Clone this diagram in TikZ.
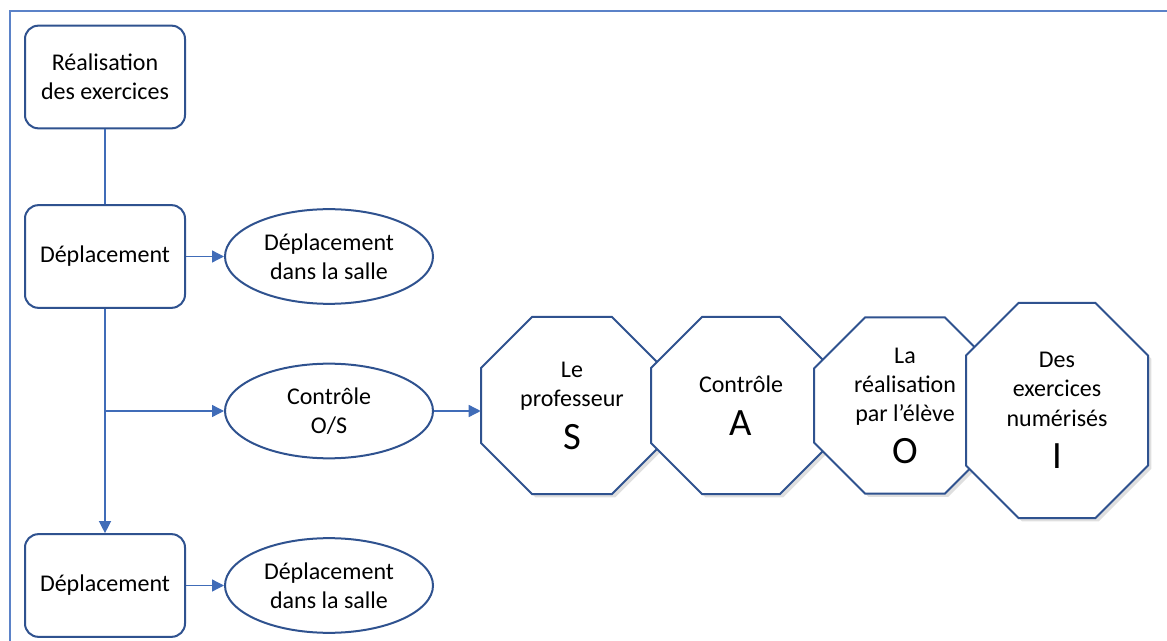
\documentclass[tikz,border=0pt]{standalone}
\usepackage{fontspec}
\setmainfont{Carlito}
\usetikzlibrary{shapes.geometric,arrows.meta,shadows}
\definecolor{boxline}{RGB}{47,82,143}
\definecolor{connline}{RGB}{64,108,184}
\definecolor{frameline}{RGB}{91,130,200}
\newcommand{\txtfont}{\fontsize{18}{22}\selectfont}
\newcommand{\bigletter}[1]{{\fontsize{29}{30}\selectfont #1}}
\tikzset{
  rbox/.style={draw=boxline, line width=1.5pt, rounded corners=10pt, fill=white,
    minimum width=120pt, minimum height=77pt, align=center, inner sep=0pt, font=\txtfont},
  ell/.style={ellipse, draw=boxline, line width=1.5pt, fill=white,
    minimum width=156pt, minimum height=71pt, inner sep=0pt, align=center, font=\txtfont},
  conn/.style={draw=connline, line width=1pt},
  arr/.style={conn, -{Triangle[length=9pt,width=9pt]}},
  octfill/.style={draw=boxline, line width=1.5pt, fill=white,
    drop shadow={opacity=0.25, shadow xshift=2.5pt, shadow yshift=-2.5pt}},
  octtext/.style={inner sep=0pt, align=center, font=\txtfont},
}
% name, cx, cy, half width, half height, chamfer, text
\newcommand{\octagonnode}[7]{%
  \path[octfill] ({#2-#4},{#3-#5+#6}) -- ({#2-#4+#6},{#3-#5}) -- ({#2+#4-#6},{#3-#5})
    -- ({#2+#4},{#3-#5+#6}) -- ({#2+#4},{#3+#5-#6}) -- ({#2+#4-#6},{#3+#5})
    -- ({#2-#4+#6},{#3+#5}) -- ({#2-#4},{#3+#5-#6}) -- cycle;
  \node[octtext, minimum width=1.5pt*#4, minimum height=1.5pt*#5] (#1) at (#2,#3) {#7};
}
\begin{document}
\begin{tikzpicture}[x=0.75pt, y=-0.75pt]
\useasboundingbox (0,0) rectangle (1167,641);
\draw[frameline, line width=2pt] (1167,11) -- (10,11) -- (10,641);

\node[rbox] (b1) at (105,77) {Réalisation\\des exercices};
\node[rbox] (b2) at (105,256.5) {Déplacement};
\node[rbox] (b3) at (105,585.5) {Déplacement};

\node[ell] (e1) at (329,256.5) {Déplacement\\dans la salle};
\node[ell] (e2) at (329,411) {Contrôle\\O/S};
\node[ell] (e3) at (329,585.5) {Déplacement\\dans la salle};

\octagonnode{o1}{572}{405.5}{91}{88.5}{51}{Le\\professeur\\[10pt]\bigletter{S}}
\octagonnode{o2}{741}{405.5}{90}{88.5}{51}{Contrôle\\[10.5pt]\bigletter{A}}
\octagonnode{o3}{905}{405.5}{91}{88}{51}{La\\réalisation\\par l’élève\\[9pt]\bigletter{O}}
\octagonnode{o4}{1057}{410.5}{91}{107.5}{52.5}{Des\\exercices\\numérisés\\[10pt]\bigletter{I}}

\draw[conn] (b1.south) -- (b2.north);
\draw[arr] (b2.south) -- (b3.north);
\draw[arr] (b2.south |- e2.west) -- (e2.west);
\draw[arr] (b2.east) -- (e1.west);
\draw[arr] (b3.east) -- (e3.west);
\draw[arr] (e2.east) -- (e2.east -| o1.west);
\end{tikzpicture}
\end{document}
